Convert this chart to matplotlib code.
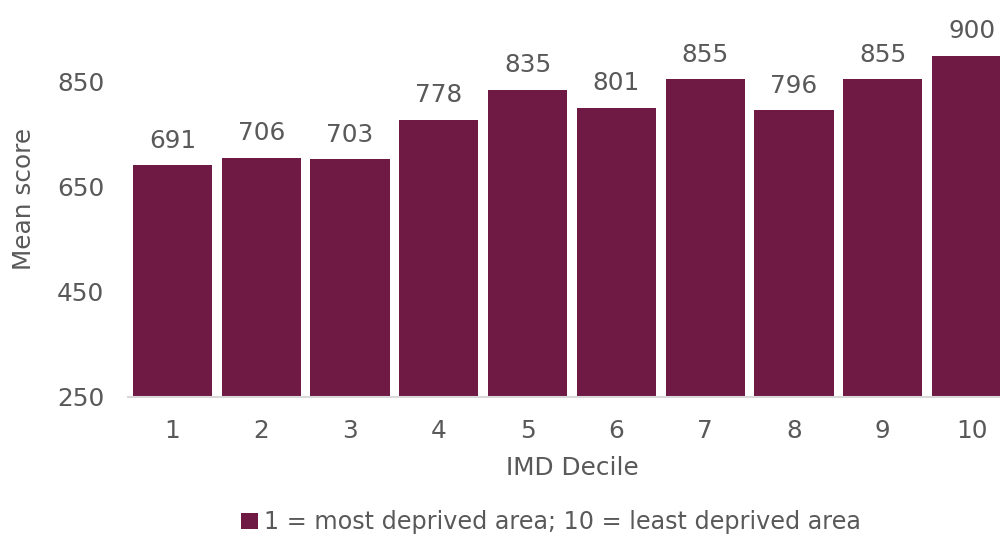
import matplotlib
matplotlib.use("Agg")
import matplotlib.pyplot as plt
from matplotlib.patches import Patch

deciles = ["1", "2", "3", "4", "5", "6", "7", "8", "9", "10"]
mean_scores = [691, 706, 703, 778, 835, 801, 855, 796, 855, 900]
y_ticks = [250, 450, 650, 850]
legend_label = "1 = most deprived area; 10 = least deprived area"

bar_color = "#6E1A44"
text_color = "#595959"
font_size = 17.8

plt.rcParams["font.family"] = ["DejaVu Sans"]

fig = plt.figure(figsize=(10, 5.34), dpi=100)
ax = fig.add_axes([0.128, 0.2566, 0.888, 0.7434])

x = list(range(len(deciles)))
ax.bar(x, mean_scores, width=0.89, bottom=0, color=bar_color, zorder=2)

for xi, v in zip(x, mean_scores):
    ax.annotate(f"{v}", (xi, v), xytext=(0, 9), textcoords="offset points",
                ha="center", va="bottom", fontsize=font_size, color=text_color)

ax.set_xlim(-0.5, len(deciles) - 0.5)
ax.set_ylim(250, 1006)
ax.set_yticks(y_ticks)
ax.set_xticks(x)
ax.set_xticklabels(deciles)

for side in ["top", "right", "left"]:
    ax.spines[side].set_visible(False)
ax.spines["bottom"].set_color("#D9D9D9")
ax.spines["bottom"].set_linewidth(1.5)
ax.spines["bottom"].set_zorder(3)
ax.tick_params(axis="both", length=0, labelsize=font_size, colors=text_color)
ax.tick_params(axis="x", pad=16)
ax.tick_params(axis="y", pad=17)

ax.set_xlabel("IMD Decile", fontsize=font_size, color=text_color, labelpad=9)
ax.set_ylabel("Mean score", fontsize=font_size, color=text_color, labelpad=15)

handle = Patch(facecolor=bar_color, edgecolor="none")
fig.legend([handle], [legend_label], loc="center", bbox_to_anchor=(0.551, 0.022),
           frameon=False, fontsize=17.2, labelcolor=text_color,
           handlelength=0.7, handleheight=0.7, handletextpad=0.25)

fig.savefig("out.png", dpi=100)
